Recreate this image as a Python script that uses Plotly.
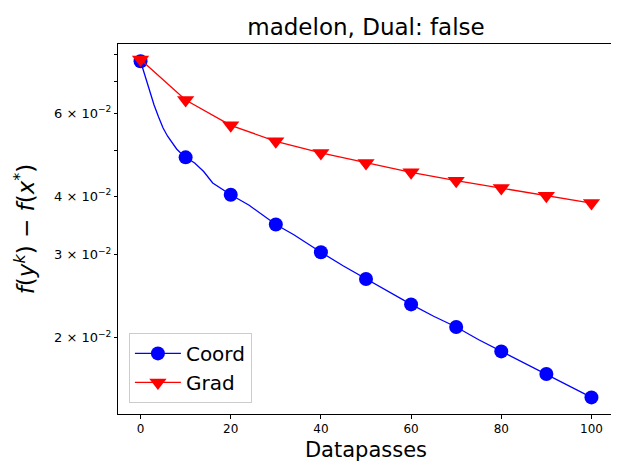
import plotly.graph_objects as go

# values
coord_x = [0, 1, 2, 3, 4, 5, 6, 7, 8, 9, 10, 12, 14, 16, 18, 20, 24, 28, 30, 34, 38, 40,
           45, 50, 55, 60, 65, 70, 75, 80, 85, 90, 95, 100]
coord_y = [0.07741, 0.07204, 0.06726, 0.06249, 0.05893, 0.05583, 0.05362, 0.05188, 0.05038,
           0.04929, 0.04836, 0.04703, 0.04511, 0.04264, 0.04141, 0.04027, 0.03829, 0.03592,
           0.03480, 0.03310, 0.03124, 0.03038, 0.02840, 0.02665, 0.02509, 0.02353, 0.02220,
           0.02106, 0.01979, 0.01869, 0.01768, 0.01673, 0.01580, 0.01492]

grad_x = [0, 10, 20, 30, 40, 50, 60, 70, 80, 90, 100]
grad_y = [0.07811, 0.06403, 0.05657, 0.05231, 0.04940, 0.04703, 0.04494, 0.04313,
          0.04161, 0.04007, 0.03866]

y_tickvals = [0.02, 0.03, 0.04, 0.05, 0.06, 0.07, 0.08]
y_ticktext = ["2 × 10<sup>−2</sup>", "3 × 10<sup>−2</sup>", "4 × 10<sup>−2</sup>", "",
              "6 × 10<sup>−2</sup>", "", ""]
x_tickvals = [0, 20, 40, 60, 80, 100]

BLUE = "#0000ff"
RED = "#ff0000"
FONT = "DejaVu Sans"

# markers only every 10 datapasses
coord_mx = [x for x in coord_x if x % 10 == 0]
coord_my = [y for x, y in zip(coord_x, coord_y) if x % 10 == 0]

fig = go.Figure()

# Coord: dense line + markers
fig.add_trace(go.Scatter(x=coord_x, y=coord_y, mode="lines",
                         line=dict(color=BLUE, width=1.3), showlegend=False))
fig.add_trace(go.Scatter(x=coord_mx, y=coord_my, mode="markers",
                         marker=dict(color=BLUE, size=14, symbol="circle"), showlegend=False))
# Grad
fig.add_trace(go.Scatter(x=grad_x, y=grad_y, mode="lines",
                         line=dict(color=RED, width=1.3), showlegend=False))
fig.add_trace(go.Scatter(x=grad_x, y=grad_y, mode="markers",
                         marker=dict(color=RED, size=15, symbol="triangle-down"), showlegend=False))

# legend entries
fig.add_trace(go.Scatter(x=[None], y=[None], mode="lines+markers", name="Coord",
                         line=dict(color=BLUE, width=1.3),
                         marker=dict(color=BLUE, size=14, symbol="circle")))
fig.add_trace(go.Scatter(x=[None], y=[None], mode="lines+markers", name="Grad",
                         line=dict(color=RED, width=1.3),
                         marker=dict(color=RED, size=15, symbol="triangle-down")))

fig.update_layout(
    width=619, height=465,
    margin=dict(l=110, r=13, t=36, b=59),
    paper_bgcolor="white", plot_bgcolor="white",
    font=dict(family=FONT, color="black", size=12),
    title=dict(text="madelon, Dual: false", x=(110 + 606) / 2 / 619, xanchor="center",
               xref="container", y=1 - 19 / 465, yanchor="middle", yref="container",
               font=dict(size=23)),
    legend=dict(x=0.022, y=0.03, xanchor="left", yanchor="bottom",
                bgcolor="rgba(255,255,255,0.8)", bordercolor="#cccccc", borderwidth=1,
                font=dict(size=20), itemwidth=46, tracegroupgap=0),
    xaxis=dict(range=[-5, 105], tickvals=x_tickvals, ticks="outside", ticklen=4,
               tickcolor="black", showgrid=False, zeroline=False, automargin=False,
               showline=True, linecolor="black", linewidth=1, mirror=True,
               title=dict(text="Datapasses", font=dict(size=21), standoff=6)),
    yaxis=dict(type="log", range=[-1.8616, -1.0744], tickvals=y_tickvals,
               ticktext=y_ticktext, ticks="outside", ticklen=3, tickcolor="black",
               showgrid=False, zeroline=False, automargin=False,
               showline=True, linecolor="black", linewidth=1, mirror=True,
               tickfont=dict(size=13),
               title=dict(text="<i>f</i>(<i>y</i><sup><i>k</i></sup>) − <i>f</i>(<i>x</i><sup>*</sup>)",
                          font=dict(size=23), standoff=12)),
)

fig.write_html("out.html")
